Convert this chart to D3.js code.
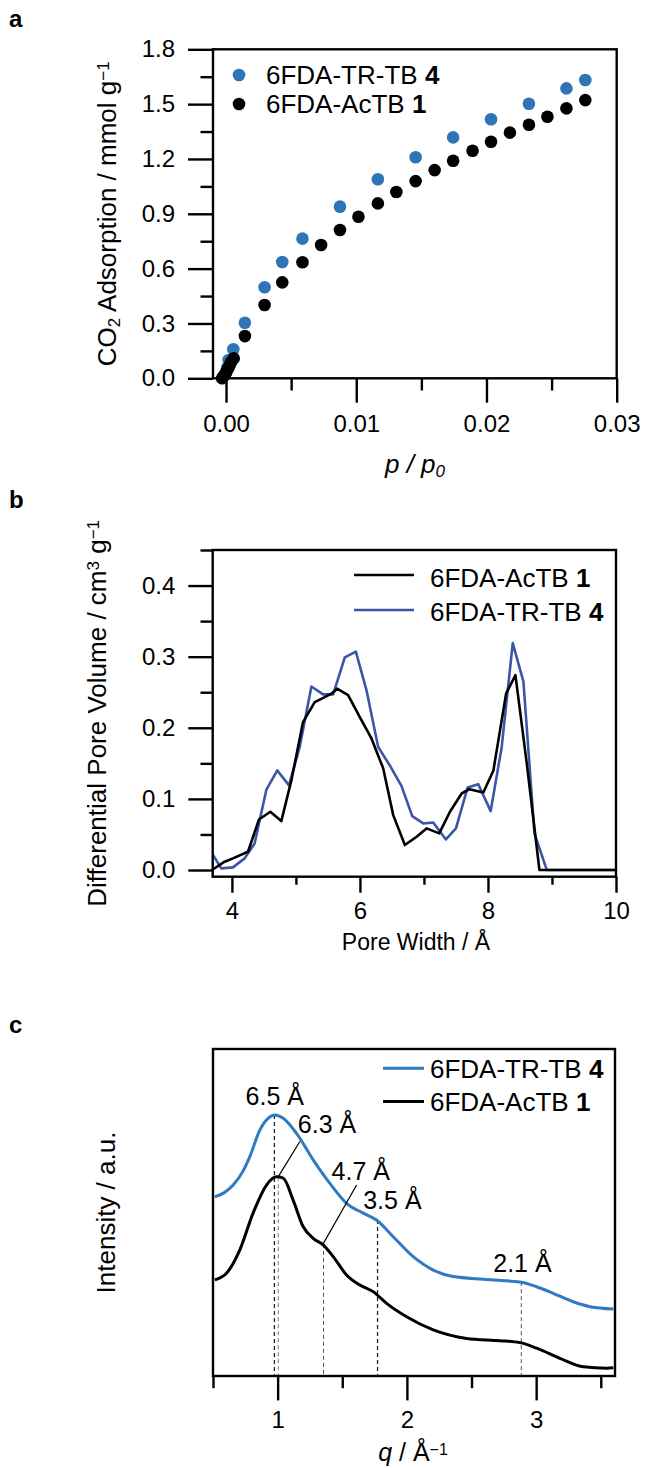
<!DOCTYPE html>
<html>
<head>
<meta charset="utf-8">
<script src="https://cdn.jsdelivr.net/npm/d3@7"></script>
<style>
  body { margin: 0; background: #fff; }
  text { font-family: "Liberation Sans", Arial, Helvetica, sans-serif; fill: #000; }
  .ax path.domain { display: none; }
  .ax line { stroke: #000; stroke-width: 2.4; }
  .ax text { font-size: 24px; font-family: "Liberation Sans", Arial, Helvetica, sans-serif; fill: #000; }
</style>
</head>
<body>
<div id="fig"></div>
<script>
// ---- panel a: CO2 adsorption isotherms (p/p0, mmol/g)
const isoP_TR = [0.0000, 0.0001, 0.0002, 0.00056, 0.00145, 0.00296, 0.00432, 0.00587, 0.00875, 0.01166, 0.01456, 0.01744, 0.02035, 0.02326, 0.02614, 0.02759];
const isoQ_TR = [0.03, 0.06, 0.10, 0.159, 0.304, 0.498, 0.636, 0.764, 0.939, 1.089, 1.209, 1.318, 1.417, 1.502, 1.586, 1.632];
const isoP_Ac = [-0.0003, -0.0002, -0.0001, 0.0000, 0.0001, 0.0002, 0.0003, 0.0004, 0.00059, 0.00145, 0.00296, 0.00432, 0.00587, 0.0073, 0.00875, 0.01017, 0.01166, 0.01308, 0.01456, 0.01602, 0.01744, 0.01893, 0.02035, 0.0218, 0.02326, 0.02468, 0.02614, 0.02759];
const isoQ_Ac = [0.0, 0.01, 0.02, 0.03, 0.045, 0.06, 0.075, 0.09, 0.109, 0.231, 0.401, 0.525, 0.635, 0.729, 0.811, 0.884, 0.957, 1.019, 1.079, 1.139, 1.19, 1.245, 1.294, 1.344, 1.387, 1.431, 1.477, 1.522];
const aYTicks = [0, 0.3, 0.6, 0.9, 1.2, 1.5, 1.8];
const aYMinor = [0.15, 0.45, 0.75, 1.05, 1.35, 1.65];
const aXTicks = [0, 0.01, 0.02, 0.03];
const aXMinor = [0.005, 0.015, 0.025];

// ---- panel b: pore size distribution (Å, cm3/g)
const poreW_Ac = [3.69, 3.886, 4.016, 4.251, 4.423, 4.600, 4.772, 4.929, 5.111, 5.294, 5.450, 5.555, 5.643, 5.815, 5.998, 6.180, 6.363, 6.520, 6.702, 6.885, 7.041, 7.239, 7.406, 7.589, 7.709, 7.928, 8.085, 8.283, 8.429, 8.606, 8.804, 10.0];
const poreV_Ac = [0.0, 0.0117, 0.0164, 0.0257, 0.0711, 0.0819, 0.0688, 0.126, 0.208, 0.236, 0.243, 0.248, 0.255, 0.246, 0.215, 0.185, 0.143, 0.0772, 0.0351, 0.0468, 0.0585, 0.0515, 0.0819, 0.1076, 0.1137, 0.109, 0.140, 0.248, 0.274, 0.150, 0.0, 0.0];
const poreW_TR = [3.69, 3.834, 4.016, 4.199, 4.355, 4.538, 4.710, 4.892, 5.059, 5.242, 5.425, 5.581, 5.764, 5.936, 6.102, 6.285, 6.467, 6.650, 6.817, 6.989, 7.145, 7.343, 7.500, 7.682, 7.849, 8.042, 8.215, 8.387, 8.554, 8.726, 8.919, 10.0];
const poreV_TR = [0.0234, 0.0023, 0.0037, 0.0164, 0.0374, 0.113, 0.140, 0.119, 0.173, 0.258, 0.247, 0.247, 0.299, 0.307, 0.253, 0.173, 0.147, 0.118, 0.0758, 0.0655, 0.0669, 0.043, 0.0585, 0.116, 0.1207, 0.0828, 0.173, 0.319, 0.265, 0.0515, 0.0, 0.0];
const bYTicks = [0, 0.1, 0.2, 0.3, 0.4];
const bYMinor = [0.05, 0.15, 0.25, 0.35, 0.45];
const bXTicks = [4, 6, 8, 10];
const bXMinor = [5, 7, 9];

// ---- panel c: WAXS profiles (q in 1/Å, intensity in a.u.)
const waxsQ_TR = [0.514, 0.585, 0.656, 0.730, 0.785, 0.862, 0.926, 0.978, 1.043, 1.146, 1.275, 1.404, 1.533, 1.662, 1.765, 1.894, 2.049, 2.204, 2.358, 2.591, 2.772, 2.888, 3.004, 3.132, 3.287, 3.416, 3.597];
const waxsI_TR = [0.548, 0.560, 0.584, 0.625, 0.671, 0.752, 0.788, 0.798, 0.788, 0.742, 0.661, 0.589, 0.528, 0.498, 0.477, 0.426, 0.365, 0.324, 0.304, 0.296, 0.291, 0.287, 0.273, 0.253, 0.227, 0.212, 0.205];
const waxsQ_Ac = [0.514, 0.604, 0.707, 0.810, 0.914, 0.991, 1.043, 1.120, 1.197, 1.275, 1.352, 1.430, 1.533, 1.636, 1.739, 1.843, 1.998, 2.204, 2.462, 2.720, 2.875, 3.004, 3.184, 3.365, 3.546, 3.597];
const waxsI_Ac = [0.294, 0.314, 0.385, 0.498, 0.584, 0.609, 0.605, 0.538, 0.457, 0.421, 0.401, 0.365, 0.309, 0.278, 0.258, 0.222, 0.181, 0.141, 0.115, 0.108, 0.102, 0.085, 0.054, 0.028, 0.024, 0.025];
const peakLabels = ["6.5 Å", "6.3 Å", "4.7 Å", "3.5 Å", "2.1 Å"];
const peakQ = [0.975, 1.005, 1.355, 1.773, 2.885];
const peakTop = [0.798, 0.608, 0.404, 0.477, 0.287];
const cXTicks = [1, 2, 3];
const cXMinor = [0.5, 1.5, 2.5, 3.5];

const blueA = "#2E75B8", blueB = "#3A56A6", blueC = "#2F7BC3";

const svg = d3.select("#fig").append("svg")
  .attr("width", 646)
  .attr("height", 1468);

function frame(g, x0, x1, y0, y1) {
  g.append("rect")
    .attr("x", x0).attr("y", y0)
    .attr("width", x1 - x0).attr("height", y1 - y0)
    .attr("fill", "none").attr("stroke", "#000").attr("stroke-width", 2.4);
}

function yAxis(g, y, x0, major, minor, fmt, len, pad) {
  g.append("g").attr("class", "ax").attr("transform", `translate(${x0},0)`)
    .call(d3.axisLeft(y).tickValues(minor).tickSize(len / 2).tickFormat(""));
  g.append("g").attr("class", "ax").attr("transform", `translate(${x0},0)`)
    .call(d3.axisLeft(y).tickValues(major).tickSize(len).tickPadding(pad).tickFormat(fmt));
}

function xAxis(g, x, y0, major, minor, fmt, len, pad) {
  g.append("g").attr("class", "ax").attr("transform", `translate(0,${y0})`)
    .call(d3.axisBottom(x).tickValues(minor).tickSize(len / 2).tickFormat(""));
  g.append("g").attr("class", "ax").attr("transform", `translate(0,${y0})`)
    .call(d3.axisBottom(x).tickValues(major).tickSize(len).tickPadding(pad).tickFormat(fmt));
}

function panelLetter(t, y) {
  svg.append("text").attr("x", 9).attr("y", y)
    .style("font-size", "24px").style("font-weight", "bold").text(t);
}

function legendText(g, x, y, name, num) {
  const t = g.append("text").attr("x", x).attr("y", y).style("font-size", "26px");
  t.append("tspan").text(name + " ");
  t.append("tspan").style("font-weight", "bold").text(num);
}

// ================= panel a =================
{
  const g = svg.append("g");
  const x = d3.scaleLinear().domain([-0.001, 0.03]).range([213, 616.7]);
  const y = d3.scaleLinear().domain([0, 1.8]).range([378.3, 49.3]);

  frame(g, 213, 616.7, 49.3, 378.3);
  yAxis(g, y, 213, aYTicks, aYMinor, d3.format(".1f"), 25, 13);
  xAxis(g, x, 378.3, aXTicks, aXMinor, d3.format(".2f"), 24.4, 12);

  g.append("g").selectAll("circle")
    .data(isoP_TR.map((p, i) => [p, isoQ_TR[i]]))
    .join("circle")
    .attr("cx", d => x(d[0])).attr("cy", d => y(d[1]))
    .attr("r", 6.3).attr("fill", blueA);

  g.append("g").selectAll("circle")
    .data(isoP_Ac.map((p, i) => [p, isoQ_Ac[i]]))
    .join("circle")
    .attr("cx", d => x(d[0])).attr("cy", d => y(d[1]))
    .attr("r", 6.3).attr("fill", "#000");

  // legend
  g.append("circle").attr("cx", 239).attr("cy", 75).attr("r", 6.3).attr("fill", blueA);
  legendText(g, 266, 84, "6FDA-TR-TB", "4");
  g.append("circle").attr("cx", 239).attr("cy", 104).attr("r", 6.3).attr("fill", "#000");
  legendText(g, 266, 113, "6FDA-AcTB", "1");

  // axis titles
  const yt = g.append("text")
    .attr("transform", `translate(116,${(49.3 + 378.3) / 2}) rotate(-90)`)
    .attr("text-anchor", "middle").style("font-size", "26px");
  yt.append("tspan").text("CO");
  yt.append("tspan").attr("baseline-shift", "-25%").style("font-size", "17px").text("2");
  yt.append("tspan").text(" Adsorption / mmol g");
  yt.append("tspan").attr("baseline-shift", "40%").style("font-size", "17px").text("−1");

  const xt = g.append("text").attr("x", 415).attr("y", 473)
    .attr("text-anchor", "middle").style("font-size", "26px").style("font-style", "italic");
  xt.append("tspan").text("p / p");
  xt.append("tspan").attr("baseline-shift", "-25%").style("font-size", "17px").text("0");

  panelLetter("a", 27);
}

// ================= panel b =================
{
  const g = svg.append("g");
  const x = d3.scaleLinear().domain([3.70, 10]).range([212.7, 616]);
  const y = d3.scaleLinear().domain([-0.0094, 0.45]).range([876.7, 550]);

  svg.append("clipPath").attr("id", "clipB")
    .append("rect").attr("x", 212.7).attr("y", 550).attr("width", 403.3).attr("height", 326.7);

  const line = d3.line().x(d => x(d[0])).y(d => y(d[1]));
  const lines = g.append("g").attr("clip-path", "url(#clipB)");
  lines.append("path")
    .datum(poreW_TR.map((w, i) => [w, poreV_TR[i]]))
    .attr("d", line).attr("fill", "none").attr("stroke", blueB)
    .attr("stroke-width", 2.6).attr("stroke-linejoin", "round");
  lines.append("path")
    .datum(poreW_Ac.map((w, i) => [w, poreV_Ac[i]]))
    .attr("d", line).attr("fill", "none").attr("stroke", "#000")
    .attr("stroke-width", 2.6).attr("stroke-linejoin", "round");

  frame(g, 212.7, 616, 550, 876.7);
  yAxis(g, y, 212.7, bYTicks, bYMinor, d3.format(".1f"), 24.4, 13);
  xAxis(g, x, 876.7, bXTicks, bXMinor, d3.format("d"), 16, 9);

  // legend
  g.append("line").attr("x1", 354).attr("x2", 414).attr("y1", 575).attr("y2", 575)
    .attr("stroke", "#000").attr("stroke-width", 2.6);
  legendText(g, 430, 587, "6FDA-AcTB", "1");
  g.append("line").attr("x1", 354).attr("x2", 414).attr("y1", 610).attr("y2", 610)
    .attr("stroke", blueB).attr("stroke-width", 2.6);
  legendText(g, 430, 621, "6FDA-TR-TB", "4");

  const yt = g.append("text")
    .attr("transform", `translate(106,${(550 + 876.7) / 2}) rotate(-90)`)
    .attr("text-anchor", "middle").style("font-size", "26px");
  yt.append("tspan").text("Differential Pore Volume / cm");
  yt.append("tspan").attr("baseline-shift", "40%").style("font-size", "17px").text("3");
  yt.append("tspan").text(" g");
  yt.append("tspan").attr("baseline-shift", "40%").style("font-size", "17px").text("−1");

  g.append("text").attr("x", 416).attr("y", 950)
    .attr("text-anchor", "middle").style("font-size", "23px").text("Pore Width / Å");

  panelLetter("b", 508);
}

// ================= panel c =================
{
  const g = svg.append("g");
  const x = d3.scaleLinear().domain([0.5, 3.61]).range([213, 615]);
  const y = d3.scaleLinear().domain([0, 1]).range([1376, 1049]);

  // dashed guide lines
  const guideStyle = [
    { w: 1.3, c: "#222" }, { w: 1, c: "#777" }, { w: 1, c: "#555" }, { w: 1.3, c: "#222" }, { w: 1, c: "#555" }
  ];
  g.append("g").selectAll("line")
    .data(peakQ.map((q, i) => ({ q, top: peakTop[i], s: guideStyle[i] })))
    .join("line")
    .attr("x1", d => x(d.q)).attr("x2", d => x(d.q))
    .attr("y1", d => y(d.top)).attr("y2", 1376)
    .attr("stroke", d => d.s.c).attr("stroke-width", d => d.s.w)
    .attr("stroke-dasharray", "4,3");

  const line = d3.line().x(d => x(d[0])).y(d => y(d[1])).curve(d3.curveMonotoneX);
  g.append("path")
    .datum(waxsQ_TR.map((q, i) => [q, waxsI_TR[i]]))
    .attr("d", line).attr("fill", "none").attr("stroke", blueC).attr("stroke-width", 3);
  g.append("path")
    .datum(waxsQ_Ac.map((q, i) => [q, waxsI_Ac[i]]))
    .attr("d", line).attr("fill", "none").attr("stroke", "#000").attr("stroke-width", 3);

  // leader lines for 6.3 and 4.7 Å
  const leaders = [[[1.004, 0.609], [1.172, 0.717]], [[1.352, 0.404], [1.611, 0.584]]];
  leaders.forEach(l => {
    g.append("line")
      .attr("x1", x(l[0][0])).attr("y1", y(l[0][1]))
      .attr("x2", x(l[1][0])).attr("y2", y(l[1][1]))
      .attr("stroke", "#000").attr("stroke-width", 1.2);
  });

  // peak labels: [q anchor, intensity of baseline, anchor]
  const labelPos = [[0.978, 0.829, "middle"], [1.156, 0.744, "start"], [1.417, 0.599, "start"], [1.662, 0.510, "start"], [2.668, 0.317, "start"]];
  peakLabels.forEach((t, i) => {
    g.append("text")
      .attr("x", x(labelPos[i][0])).attr("y", y(labelPos[i][1]))
      .attr("text-anchor", labelPos[i][2])
      .style("font-size", "25px").text(t);
  });

  frame(g, 213, 615, 1049, 1376);
  xAxis(g, x, 1376, cXTicks, cXMinor, d3.format("d"), 24.4, 11);

  // legend
  g.append("line").attr("x1", 383).attr("x2", 424).attr("y1", 1068.3).attr("y2", 1068.3)
    .attr("stroke", blueC).attr("stroke-width", 3);
  legendText(g, 430, 1077.5, "6FDA-TR-TB", "4");
  g.append("line").attr("x1", 383).attr("x2", 424).attr("y1", 1101.5).attr("y2", 1101.5)
    .attr("stroke", "#000").attr("stroke-width", 3);
  legendText(g, 430, 1110.5, "6FDA-AcTB", "1");

  g.append("text")
    .attr("transform", `translate(115,${(1049 + 1376) / 2}) rotate(-90)`)
    .attr("text-anchor", "middle").style("font-size", "26px").text("Intensity / a.u.");

  const xt = g.append("text").attr("x", 413).attr("y", 1461)
    .attr("text-anchor", "middle").style("font-size", "25px");
  xt.append("tspan").style("font-style", "italic").text("q");
  xt.append("tspan").text(" / Å");
  xt.append("tspan").attr("baseline-shift", "40%").style("font-size", "16px").text("−1");

  panelLetter("c", 1033);
}
</script>
</body>
</html>
